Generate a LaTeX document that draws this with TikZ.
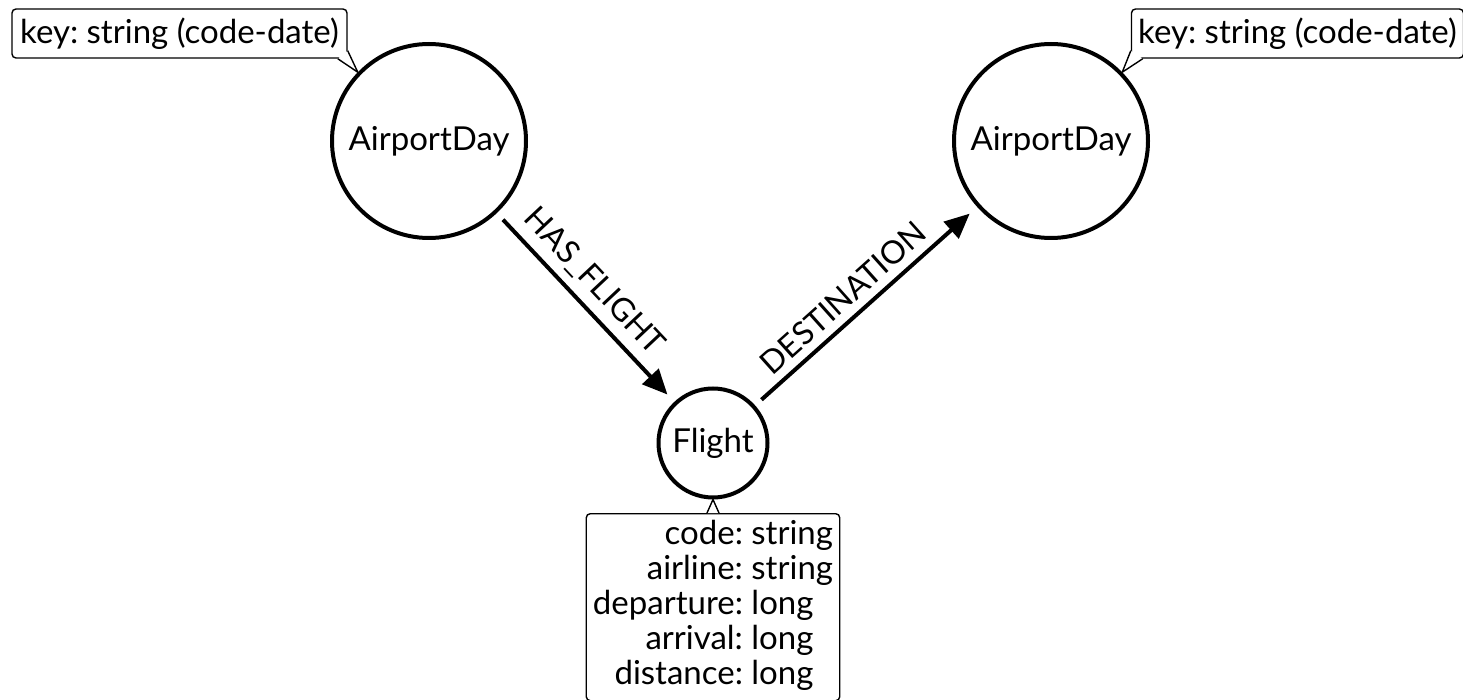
\documentclass[tikz,border=0pt]{standalone}
\usepackage{fontspec}
\setmainfont{Lato}
\usetikzlibrary{arrows.meta}
\frenchspacing

\begin{document}
\begin{tikzpicture}[x=.5pt, y=-.5pt,
	entity/.style={draw, circle, line width=2pt, minimum size=97pt, font=\fontsize{16.5}{19}\selectfont},
	rel/.style={line width=2pt, -{Triangle[length=12.5pt, width=11pt]}},
	relname/.style={sloped, above, inner sep=4pt, font=\fontsize{16}{19}\selectfont},
	propbox/.style={draw, line width=.7pt, rounded corners=2pt, fill=white, font=\fontsize{16.5}{17.5}\selectfont},
	pointer/.style={line width=.7pt, fill=white, line join=miter}]
	\useasboundingbox (0,0) rectangle (1463,700);
	% nodes
	\node[entity] (day1) at (429,141) {AirportDay};
	\node[entity] (day2) at (1051,141) {AirportDay};
	\node[entity, minimum size=54.5pt] (flight) at (713,443) {Flight};
	% relationships
	\draw[rel, shorten <=4.5pt, shorten >=5pt] (day1) -- (flight)
		node[relname, pos=.45] {HAS\_FLIGHT};
	\draw[rel, shorten <=4.25pt, shorten >=5pt] (flight) -- (day2)
		node[relname, pos=.46] {DESTINATION};
	% properties
	\node[propbox, minimum width=167.5pt, minimum height=24.5pt] (key1) at (179.5,33.5) {key: string (code-date)};
	\filldraw[pointer] ([xshift=-5pt]key1.south east) -- (day1.136) -- ([yshift=4pt]key1.south east);
	\node[propbox, minimum width=164.5pt, minimum height=24.5pt] (key2) at (1297.5,33.5) {key: string (code-date)};
	\filldraw[pointer] ([xshift=6pt]key2.south west) -- (day2.44) -- ([yshift=4pt]key2.south west);
	\node[propbox, anchor=north, minimum width=126pt, inner ysep=3pt] (attrs) at (713,513)
		{\begin{tabular}{@{}r@{\ }l@{}}
			code: & string\\
			airline: & string\\
			departure: & long\\
			arrival: & long\\
			distance: & long
		\end{tabular}};
	\filldraw[pointer] ([xshift=-3pt]attrs.north) -- (flight.south) -- ([xshift=3pt]attrs.north);
\end{tikzpicture}
\end{document}
